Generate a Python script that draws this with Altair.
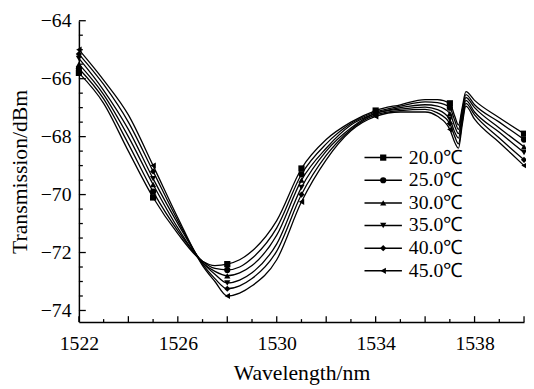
import altair as alt
import pandas as pd

# ---- data ----
wavelengths = [1522, 1523, 1524, 1525, 1526, 1527, 1527.5, 1528, 1528.5, 1529, 1530, 1531,
               1532, 1533, 1534, 1535, 1536, 1536.5, 1537.0, 1537.2, 1537.35, 1537.5,
               1537.65, 1538, 1539, 1540]

t20 = [-65.8, -66.85, -68.5, -70.1, -71.35, -72.3, -72.45, -72.4, -72.25, -71.95, -70.9, -69.1,
       -68.1, -67.5, -67.1, -66.9, -66.72, -66.72, -66.85, -67.3, -67.6, -67.0, -66.45, -66.75,
       -67.35, -67.9]
t25 = [-65.65, -66.7, -68.25, -69.9, -71.25, -72.3, -72.55, -72.6, -72.5, -72.2, -71.15, -69.3,
       -68.25, -67.55, -67.15, -66.95, -66.8, -66.83, -67.0, -67.45, -67.75, -67.1, -66.55, -66.9,
       -67.5, -68.1]
t30 = [-65.5, -66.55, -68.0, -69.65, -71.15, -72.35, -72.65, -72.8, -72.7, -72.45, -71.4, -69.5,
       -68.4, -67.6, -67.2, -67.0, -66.9, -66.95, -67.2, -67.65, -67.9, -67.25, -66.65, -67.0,
       -67.7, -68.35]
t35 = [-65.3, -66.4, -67.75, -69.45, -71.0, -72.35, -72.75, -73.05, -72.95, -72.7, -71.7, -69.75,
       -68.5, -67.7, -67.2, -67.05, -66.98, -67.07, -67.4, -67.85, -68.05, -67.35, -66.75, -67.15,
       -67.85, -68.55]
t40 = [-65.15, -66.2, -67.5, -69.2, -70.9, -72.4, -72.9, -73.25, -73.15, -72.9, -71.95, -70.0,
       -68.65, -67.75, -67.25, -67.1, -67.06, -67.18, -67.55, -68.0, -68.25, -67.5, -66.85, -67.25,
       -68.05, -68.8]
t45 = [-65.0, -66.05, -67.25, -69.0, -70.8, -72.45, -73.0, -73.5, -73.4, -73.15, -72.25, -70.25,
       -68.8, -67.8, -67.3, -67.15, -67.15, -67.3, -67.75, -68.2, -68.4, -67.6, -66.95, -67.4,
       -68.2, -69.0]

labels = ["20.0℃", "25.0℃", "30.0℃", "35.0℃", "40.0℃", "45.0℃"]
series = [t20, t25, t30, t35, t40, t45]
shapes = ["square", "circle", "triangle-up", "triangle-down", "diamond", "triangle-left"]
marker_wavelengths = [1522, 1525, 1528, 1531, 1534, 1537, 1540]

x_ticks_minor = list(range(1522, 1541))
x_labels = [1522, 1526, 1530, 1534, 1538]
y_labels = [-64, -66, -68, -70, -72, -74]
y_ticks_minor = [-74 + 0.5 * i for i in range(21)]

# ---- tables ----
rows = []
for lab, vals in zip(labels, series):
    for w, v in zip(wavelengths, vals):
        rows.append({"wl": w, "T": v, "temp": lab})
df = pd.DataFrame(rows)
df_pts = df[df["wl"].isin(marker_wavelengths)]

xt = pd.DataFrame({"wl": x_ticks_minor})
xt["major"] = xt["wl"] % 2 == 0
yt = pd.DataFrame({"T": y_ticks_minor})
yt["major"] = yt["T"] % 2 == 0

FONT = "Liberation Serif"
TOP = 10
W, H = 452, 306
xscale = alt.Scale(domain=[1522, 1540], nice=False, zero=False)
yscale = alt.Scale(domain=[-74.4, -64], nice=False, zero=False)
shape_scale = alt.Scale(domain=labels, range=shapes)

x_axis = alt.Axis(values=x_labels, format="d", ticks=False, grid=False,
                  labelFlush=False, labelPadding=12, titlePadding=9,
                  domainColor="black", domainWidth=1.5)
y_axis = alt.Axis(values=y_labels, format="d", ticks=False, grid=False,
                  labelPadding=8, titlePadding=9,
                  domainColor="black", domainWidth=1.5)


def X():
    return alt.X("wl:Q", scale=xscale, title="Wavelength/nm", axis=x_axis)


def Y():
    return alt.Y("T:Q", scale=yscale, title="Transmission/dBm", axis=y_axis)


lines = alt.Chart(df).mark_line(interpolate="monotone", color="black", strokeWidth=1.3).encode(
    x=X(), y=Y(), detail="temp:N")

points = alt.Chart(df_pts).mark_point(filled=True, color="black", size=40, opacity=1).encode(
    x=X(), y=Y(), shape=alt.Shape("temp:N", scale=shape_scale, legend=None))

xt_major = alt.Chart(xt[xt["major"]]).mark_rule(color="black", strokeWidth=1.3).encode(
    x=X(), y=alt.value(H), y2=alt.value(H - 6))
xt_minor = alt.Chart(xt[~xt["major"]]).mark_rule(color="black", strokeWidth=1.3).encode(
    x=X(), y=alt.value(H), y2=alt.value(H - 3))
yt_major = alt.Chart(yt[yt["major"]]).mark_rule(color="black", strokeWidth=1.3).encode(
    y=Y(), x=alt.value(0), x2=alt.value(7))
yt_minor = alt.Chart(yt[~yt["major"]]).mark_rule(color="black", strokeWidth=1.3).encode(
    y=Y(), x=alt.value(0), x2=alt.value(4))

layers = [lines, points, xt_major, xt_minor, yt_major, yt_minor]

# ---- hand-built legend (line + marker + label per row) ----
for i, lab in enumerate(labels):
    ypix = 149 - TOP + 23 * i
    one = pd.DataFrame({"temp": [lab]})
    layers.append(alt.Chart(one).mark_rule(color="black", strokeWidth=1.5).encode(
        x=alt.value(290), x2=alt.value(328), y=alt.value(ypix)))
    layers.append(alt.Chart(one).mark_point(filled=True, color="black", size=40, opacity=1).encode(
        x=alt.value(309), y=alt.value(ypix),
        shape=alt.Shape("temp:N", scale=shape_scale, legend=None)))
    layers.append(alt.Chart(one).mark_text(align="left", baseline="middle", font=FONT,
                                           fontSize=20, color="black").encode(
        x=alt.value(335), y=alt.value(ypix), text="temp:N"))

chart = alt.layer(*layers).properties(
    width=W, height=H,
    autosize=alt.AutoSizeParams(type="none"),
    padding={"left": 72, "top": TOP, "right": 2, "bottom": 62},
).configure_view(stroke=None).configure_axis(
    labelFont=FONT, labelFontSize=20, labelColor="black",
    titleFont=FONT, titleFontSize=22, titleFontWeight="normal", titleColor="black",
)

chart.save("out.html", embed_options={"renderer": "svg", "actions": False})
